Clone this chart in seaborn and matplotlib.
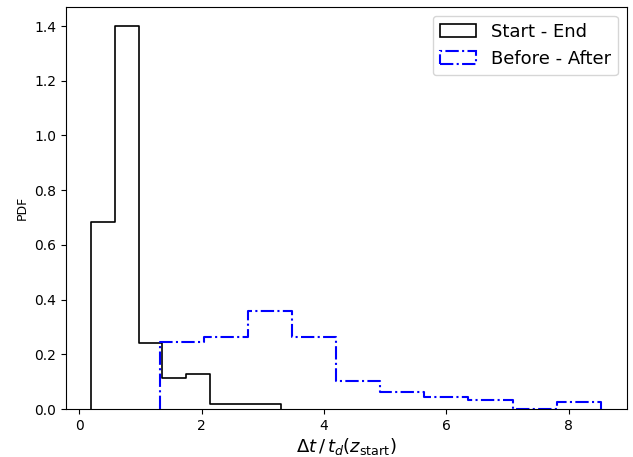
import numpy as np
import pandas as pd
import matplotlib
matplotlib.use("Agg")
import matplotlib.pyplot as plt
from matplotlib.patches import Patch
import seaborn as sns

# Black histogram ("Start - End"): bin edges and PDF heights
se_edges = [0.196, 0.583, 0.970, 1.357, 1.744, 2.131, 2.518, 2.905, 3.292]
se_heights = [0.685, 1.400, 0.240, 0.112, 0.129, 0.018, 0.018, 0.018]

# Blue histogram ("Before - After")
ba_edges = [1.32, 2.04, 2.76, 3.48, 4.20, 4.92, 5.64, 6.36, 7.08, 7.80, 8.52]
ba_heights = [0.246, 0.265, 0.359, 0.265, 0.104, 0.061, 0.043, 0.033, 0.0, 0.027]

labels = ["Start - End", "Before - After"]


def padded(edges, heights, eps=1e-6):
    """Add zero-height sliver bins at both ends so the step outline drops to 0."""
    e = [edges[0] - eps] + list(edges) + [edges[-1] + eps]
    h = [0.0] + list(heights) + [0.0]
    ea = np.asarray(e)
    c = (ea[:-1] + ea[1:]) / 2
    return [float(v) for v in e], pd.DataFrame({"x": c, "w": h})


se_bins, se_df = padded(se_edges, se_heights)
ba_bins, ba_df = padded(ba_edges, ba_heights)

fig, ax = plt.subplots(figsize=(6.33, 4.57), dpi=100)
fig.subplots_adjust(left=0.104, right=0.9905, top=0.985, bottom=0.105)

sns.histplot(data=se_df, x="x", weights="w", bins=se_bins, stat="count",
             element="step", fill=False, color="black",
             linewidth=1.2, ax=ax)
sns.histplot(data=ba_df, x="x", weights="w", bins=ba_bins, stat="count",
             element="step", fill=False, color="blue",
             linewidth=1.5, linestyle="-.", ax=ax)

ax.set_ylim(0, 1.47)
ax.set_xlim(-0.22, 8.95)
ax.set_xlabel(r"$\Delta t\,/\,t_d(z_{\rm start})$", fontsize=13, labelpad=2.5)
ax.set_ylabel("PDF", fontsize=9)
ax.tick_params(labelsize=10)

handles = [
    Patch(facecolor="none", edgecolor="black", linewidth=1.2),
    Patch(facecolor="none", edgecolor="blue", linewidth=1.5, linestyle="-."),
]
ax.legend(handles, labels, loc="upper right", fontsize=13)

fig.savefig("out.png", dpi=100)
